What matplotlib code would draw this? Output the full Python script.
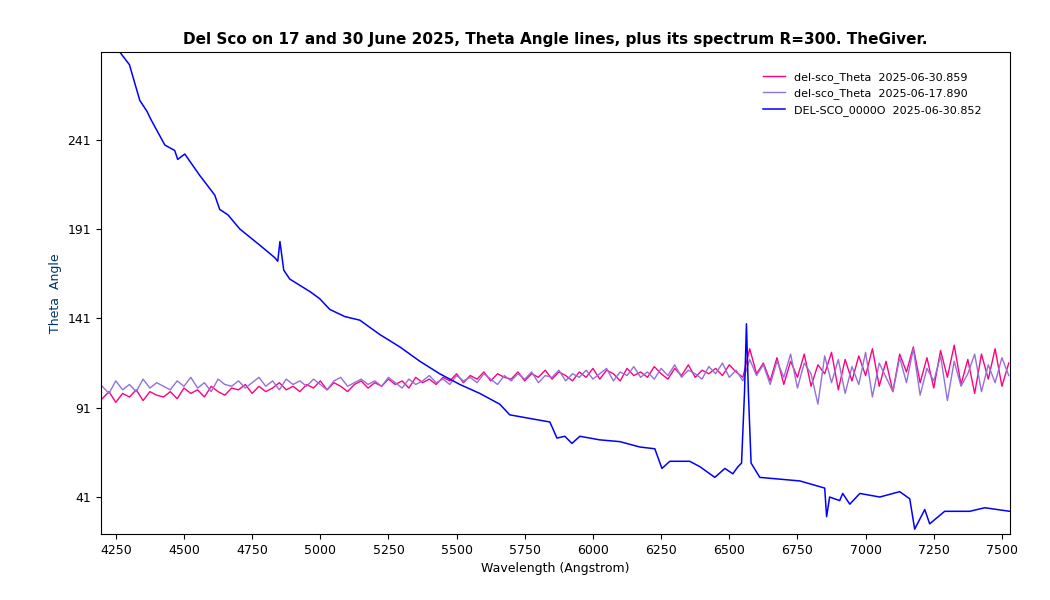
import numpy as np
import matplotlib
matplotlib.use("Agg")
import matplotlib.pyplot as plt

wl_theta = np.arange(4200, 7550, 25)
pink = [96,100,94,99,97,101,95,100,98,97,
100,96,102,99,101,97,103,100,98,102,
101,104,99,103,100,102,105,101,103,100,
104,102,106,101,105,103,100,104,106,102,
105,103,107,104,106,102,108,105,107,104,
108,106,110,105,109,107,111,106,110,108,
107,111,106,110,108,112,107,111,109,106,
111,108,113,107,112,110,106,113,109,111,
108,114,110,107,113,109,115,108,112,110,
113,109,115,111,108,124,110,116,106,119,
104,117,108,121,103,115,110,122,101,118,
106,120,109,124,103,117,100,121,111,125,
105,119,102,123,108,126,104,118,99,121,
107,124,103,116]
purple = [103,99,106,101,104,100,107,102,105,103,
101,106,103,108,102,105,100,107,104,103,
106,102,105,108,103,106,101,107,104,106,
103,107,104,101,106,108,103,105,107,104,
106,103,108,105,102,107,104,106,109,105,
107,104,109,106,108,105,110,107,104,109,
106,110,107,111,105,109,108,112,106,110,
108,112,107,110,113,106,111,109,114,108,
111,107,113,109,115,108,112,110,107,114,
110,116,108,112,106,118,109,115,104,117,
108,121,102,116,110,93,120,105,118,99,
114,104,122,97,116,108,100,119,105,124,
98,113,106,120,95,117,103,110,121,100,
115,105,119,109]

wl_spec = [4195,4265,4300,4338,4364,4380,4430,4466,4477,4503,4558,4613,4631,4661,4705,4778,4833,4844,4852,4866,4888,4962,4998,5035,5090,5145,5218,5292,5365,5438,5512,5585,5658,5695,5768,5842,5868,5897,5923,5952,6025,6099,6172,6227,6253,6282,6355,6392,6447,6484,6513,6532,6545,6556,6563,6570,6580,6612,6759,6850,6857,6868,6905,6916,6942,6979,7052,7125,7162,7180,7190,7217,7235,7290,7382,7437,7529]
spec = [290,290,283,263,257,252,238,235,230,233,221,210,202,199,191,182,175,173,184,168,163,156,152,146,142,140,132,125,117,110,104,99,93,87,85,83,74,75,71,75,73,72,69,68,57,61,61,58,52,57,54,58,60,100,138,100,60,52,50,46,30,41,39,43,37,43,41,44,40,23,26,34,26,33,33,35,33]

yticks = [41, 91, 141, 191, 241]
xticks = [4250,4500,4750,5000,5250,5500,5750,6000,6250,6500,6750,7000,7250,7500]

fig = plt.figure(figsize=(10.5, 6), dpi=100)
ax = fig.add_axes([0.096, 0.11, 0.866, 0.803])
ax.plot(wl_theta, pink, color="#ff0080", lw=1, label="del-sco_Theta  2025-06-30.859")
ax.plot(wl_theta, purple, color="#9370db", lw=1, label="del-sco_Theta  2025-06-17.890")
ax.plot(wl_spec, spec, color="#0000ff", lw=1.1, label="DEL-SCO_0000O  2025-06-30.852")
ax.set_xlim(4195, 7530)
ax.set_ylim(20.3, 290)
ax.set_xticks(xticks)
ax.set_yticks(yticks)
ax.tick_params(labelsize=9)
ax.set_xlabel("Wavelength (Angstrom)", fontsize=9)
ax.set_ylabel("Theta  Angle", fontsize=9, color="#003366")
ax.set_title("Del Sco on 17 and 30 June 2025, Theta Angle lines, plus its spectrum R=300. TheGiver.",
             fontsize=11, fontweight="bold")
ax.legend(loc="upper right", frameon=False, fontsize=8, bbox_to_anchor=(0.98, 0.98))
fig.savefig("out.png")
